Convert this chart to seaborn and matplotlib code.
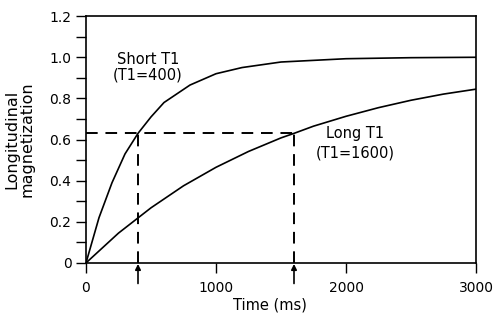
import matplotlib
matplotlib.use("Agg")
import matplotlib.pyplot as plt
import numpy as np
import pandas as pd
import seaborn as sns

# Recovery curves (longitudinal magnetization vs time)
time_short = [0, 100, 200, 300, 400, 500, 600, 800, 1000, 1200, 1500, 2000, 2500, 3000]
mz_short = [0, 0.22, 0.39, 0.53, 0.63, 0.71, 0.78, 0.865, 0.92, 0.95, 0.977, 0.993, 0.998, 1.0]

time_long = [0, 250, 500, 750, 1000, 1250, 1500, 1600, 1750, 2000, 2250, 2500, 2750, 3000]
mz_long = [0, 0.145, 0.268, 0.375, 0.465, 0.542, 0.608, 0.63, 0.665, 0.713, 0.755, 0.791, 0.821, 0.845]

t1_values = [400, 1600]
mark_level = 0.63

x_ticks = [0, 1000, 2000, 3000]
y_major = [0, 0.2, 0.4, 0.6, 0.8, 1.0, 1.2]
y_labels = ["0", "0.2", "0.4", "0.6", "0.8", "1.0", "1.2"]

sns.set_style("ticks")
plt.rcParams["font.family"] = ["DejaVu Sans"]
plt.rcParams["text.color"] = "black"
plt.rcParams["axes.labelcolor"] = "black"

fig = plt.figure(figsize=(5.0, 3.23), dpi=100)
ax = fig.add_axes([0.172, 0.186, 0.780, 0.764])

df_short = pd.DataFrame({"t": time_short, "m": mz_short})
df_long = pd.DataFrame({"t": time_long, "m": mz_long})
sns.lineplot(data=df_short, x="t", y="m", ax=ax, color="black", lw=1.2)
sns.lineplot(data=df_long, x="t", y="m", ax=ax, color="black", lw=1.2)

# dashed guides at M = 0.63 for each T1
dash = (0, (6, 4))
ax.plot([0, t1_values[1]], [mark_level, mark_level], color="black", lw=1.4, ls=dash)
for t1 in t1_values:
    ax.plot([t1, t1], [0, mark_level], color="black", lw=1.4, ls=dash)
    ax.annotate("", xy=(t1, -0.005), xytext=(t1, -0.1),
                xycoords="data", textcoords="data", annotation_clip=False,
                arrowprops=dict(arrowstyle="-|>", color="black", lw=1.2,
                                mutation_scale=8, shrinkA=0, shrinkB=0))

ax.set_xlim(0, 3000)
ax.set_ylim(0, 1.2)
ax.set_xticks(x_ticks)
ax.set_xticklabels([str(v) for v in x_ticks])
ax.set_yticks(y_major)
ax.set_yticklabels(y_labels)
ax.set_yticks(np.arange(0.1, 1.2, 0.2), minor=True)
ax.tick_params(axis="both", which="both", direction="out", length=7, width=1.0,
               labelsize=10, colors="black")
ax.tick_params(axis="x", pad=6)

for s in ax.spines.values():
    s.set_visible(True)
    s.set_linewidth(1.2)
    s.set_color("black")

ax.set_xlabel("Time (ms)", fontsize=10.5)
ax.xaxis.set_label_coords(0.472, -0.14)
ax.set_ylabel("Longitudinal\nmagnetization", fontsize=11.5, linespacing=1.05, labelpad=10.5)

ax.text(477, 0.99, "Short T1", ha="center", va="center", fontsize=10.5)
ax.text(477, 0.915, "(T1=400)", ha="center", va="center", fontsize=10.5)
ax.text(2069, 0.627, "Long T1", ha="center", va="center", fontsize=10.5)
ax.text(2069, 0.535, "(T1=1600)", ha="center", va="center", fontsize=10.5)

fig.savefig("out.png", dpi=100)
